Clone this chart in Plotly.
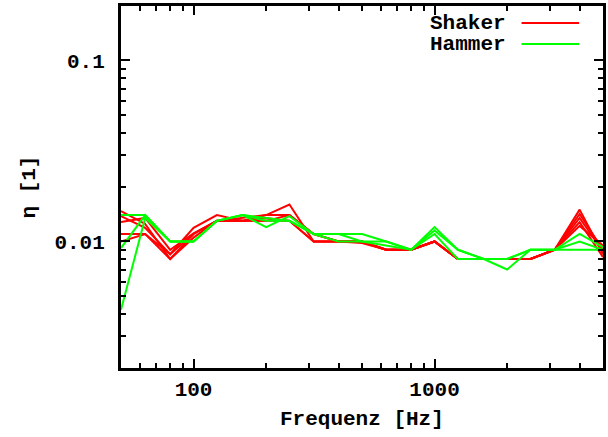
import plotly.graph_objects as go

freq = [50, 63, 80, 100, 125, 160, 200, 250, 315, 400, 500, 630, 800,
        1000, 1250, 1600, 2000, 2500, 3150, 4000, 5000]

shaker_1 = [0.0147, 0.0125, 0.0080, 0.0110, 0.0130, 0.0130, 0.0140, 0.0160, 0.0100, 0.0100, 0.0100,
            0.0090, 0.0090, 0.0100, 0.0080, 0.0080, 0.0080, 0.0080, 0.0090, 0.0150, 0.0085]
shaker_2 = [0.0138, 0.0119, 0.0085, 0.0119, 0.0140, 0.0130, 0.0130, 0.0140, 0.0110, 0.0100, 0.0100,
            0.0090, 0.0090, 0.0100, 0.0080, 0.0080, 0.0080, 0.0080, 0.0090, 0.0142, 0.0090]
shaker_3 = [0.0128, 0.0135, 0.0090, 0.0111, 0.0130, 0.0135, 0.0140, 0.0140, 0.0110, 0.0100, 0.0100,
            0.0090, 0.0090, 0.0100, 0.0080, 0.0080, 0.0080, 0.0080, 0.0090, 0.0135, 0.0088]
shaker_4 = [0.0110, 0.0110, 0.0080, 0.0105, 0.0130, 0.0130, 0.0130, 0.0130, 0.0100, 0.0100, 0.0100,
            0.0090, 0.0090, 0.0100, 0.0080, 0.0080, 0.0080, 0.0080, 0.0090, 0.0128, 0.0082]
shaker_5 = [0.0100, 0.0110, 0.0085, 0.0110, 0.0130, 0.0130, 0.0135, 0.0130, 0.0100, 0.0100, 0.0098,
            0.0090, 0.0090, 0.0100, 0.0080, 0.0080, 0.0080, 0.0080, 0.0090, 0.0122, 0.0095]

hammer_1 = [0.0140, 0.0140, 0.0100, 0.0100, 0.0130, 0.0140, 0.0120, 0.0138, 0.0110, 0.0110, 0.0110,
            0.0100, 0.0090, 0.0120, 0.0090, 0.0080, 0.0070, 0.0090, 0.0090, 0.0110, 0.0093]
hammer_2 = [0.0092, 0.0140, 0.0100, 0.0100, 0.0130, 0.0140, 0.0130, 0.0130, 0.0110, 0.0100, 0.0100,
            0.0100, 0.0090, 0.0110, 0.0080, 0.0080, 0.0080, 0.0090, 0.0090, 0.0100, 0.0090]
hammer_3 = [0.0042, 0.0135, 0.0100, 0.0100, 0.0130, 0.0140, 0.0135, 0.0130, 0.0110, 0.0110, 0.0100,
            0.0095, 0.0090, 0.0115, 0.0090, 0.0080, 0.0080, 0.0090, 0.0090, 0.0090, 0.0090]

x_tickvals = [100, 1000]
x_ticktext = ["100", "1000"]
y_tickvals = [0.01, 0.1]
y_ticktext = ["0.01", "0.1"]

RED = "#ff0000"
GREEN = "#00ff00"
FONT = "Liberation Mono"
FS = 21

fig = go.Figure()
for s in [shaker_1, shaker_2, shaker_3, shaker_4, shaker_5]:
    fig.add_trace(go.Scatter(x=freq, y=s, mode="lines", line=dict(color=RED, width=2),
                             showlegend=False, name="Shaker"))
for s in [hammer_1, hammer_2, hammer_3]:
    fig.add_trace(go.Scatter(x=freq, y=s, mode="lines", line=dict(color=GREEN, width=2),
                             showlegend=False, name="Hammer"))

axis_common = dict(
    showline=True, linecolor="black", linewidth=3, mirror="allticks",
    ticks="inside", ticklen=9, tickwidth=2, tickcolor="black",
    showgrid=False, zeroline=False,
    tickfont=dict(family=FONT, size=FS, color="black", weight="bold"),
    minor=dict(ticks="inside", ticklen=5, tickwidth=2, tickcolor="black", showgrid=False,
               dtick="D1"),
)

fig.update_xaxes(type="log", range=[1.69897, 3.69897], tickvals=x_tickvals, ticktext=x_ticktext,
                 **axis_common)
fig.update_yaxes(type="log", range=[-2.69897, -0.69897], tickvals=y_tickvals, ticktext=y_ticktext,
                 ticklabelstandoff=9, **axis_common)

# axis titles
fig.add_annotation(text="Frequenz [Hz]", xref="paper", yref="paper", x=0.5, y=-0.1436,
                   showarrow=False, xanchor="center", yanchor="middle",
                   font=dict(family=FONT, size=FS, color="black", weight="bold"))
fig.add_annotation(text="η [1]", xref="paper", yref="paper", x=-0.1918, y=0.5,
                   showarrow=False, textangle=-90, xanchor="center", yanchor="middle",
                   font=dict(family=FONT, size=FS, color="black", weight="bold"))

# legend (gnuplot style: text left, line sample right)
legend_items = [("Shaker", RED, 0.953), ("Hammer", GREEN, 0.895)]
for label, col, yy in legend_items:
    fig.add_annotation(text=label, xref="paper", yref="paper", x=0.802, y=yy,
                       showarrow=False, xanchor="right", yanchor="middle",
                       font=dict(family=FONT, size=FS, color="black", weight="bold"))
    fig.add_shape(type="line", xref="paper", yref="paper", x0=0.831, x1=0.9505, y0=yy, y1=yy,
                  line=dict(color=col, width=2))

fig.update_layout(
    width=608, height=437,
    margin=dict(l=121, r=2, t=6, b=69),
    paper_bgcolor="white", plot_bgcolor="white",
    showlegend=False,
)

fig.write_html("out.html", config={"displayModeBar": False},
               post_script="document.body.style.margin='0';document.body.style.overflow='hidden';")
